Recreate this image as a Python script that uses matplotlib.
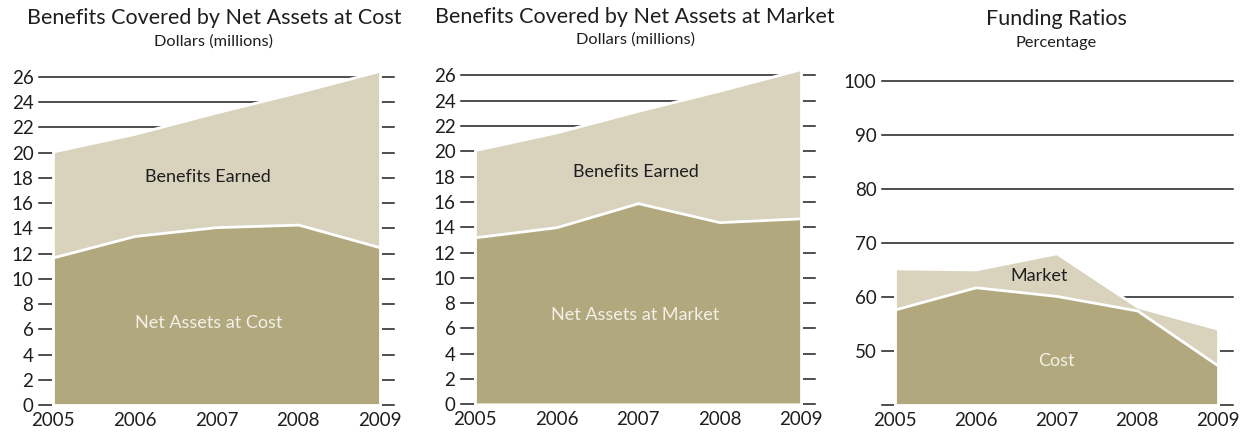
import matplotlib
matplotlib.use("Agg")
import matplotlib.pyplot as plt

plt.rcParams["font.family"] = ["Lato", "DejaVu Sans"]

# Pension plan data, 2005-2009
years = [2005, 2006, 2007, 2008, 2009]
benefits_earned = [20.1, 21.5, 23.2, 24.8, 26.5]          # $ millions
net_assets_cost = [11.7, 13.4, 14.1, 14.3, 12.5]          # $ millions
net_assets_market = [13.2, 14.0, 15.9, 14.4, 14.7]        # $ millions
ratio_market = [65.3, 65.1, 68.1, 58.2, 54.1]             # percent
ratio_cost = [57.7, 61.8, 60.2, 57.5, 47.3]               # percent

dollar_ticks = list(range(0, 27, 2))
dollar_labels = [str(t) for t in dollar_ticks]
ratio_ticks = [40, 50, 60, 70, 80, 90, 100]
ratio_labels = ["", "50", "60", "70", "80", "90", "100"]

LIGHT = "#d9d3bd"
DARK = "#b1a87e"
INK = "#1e1e1e"
PALE_TEXT = "#f4f1e6"

W, H = 1248, 432
fig = plt.figure(figsize=(W / 100, H / 100), dpi=100)


def add_axes_px(x_left, x_right, y_bottom, y_top):
    """Create axes from pixel edges (y measured from the top)."""
    return fig.add_axes([x_left / W, 1 - y_bottom / H,
                         (x_right - x_left) / W, (y_bottom - y_top) / H])


def fig_text(x, y, s, **kw):
    fig.text(x / W, 1 - y / H, s, ha="center", va="center", **kw)


def draw_panel(ax, upper, lower, base, ticks, labels, xlim, ylim):
    ax.set_xlim(*xlim)
    ax.set_ylim(*ylim)
    for t in ticks:
        ax.axhline(t, color=INK, lw=1.1, zorder=0, clip_on=False)
    ax.fill_between(years, base, upper, facecolor=LIGHT, edgecolor="white",
                    lw=2.0, zorder=1, clip_on=False)
    ax.fill_between(years, base, lower, facecolor=DARK, edgecolor="white",
                    lw=2.0, zorder=2, clip_on=False)
    for s in ax.spines.values():
        s.set_visible(False)
    ax.set_yticks(ticks, labels)
    ax.set_xticks(years, [str(y) for y in years])
    ax.tick_params(axis="y", length=0, pad=4, labelsize=13.5, labelcolor=INK)
    ax.tick_params(axis="x", length=0, pad=5, labelsize=13.5, labelcolor=INK)
    ax.patch.set_visible(False)


# Panel 1: benefits covered by net assets at cost
ax1 = add_axes_px(39, 394, 405, 405 - 27 * 12.615)
draw_panel(ax1, benefits_earned, net_assets_cost, 0, dollar_ticks,
           dollar_labels, (2005 - 14 / 81.75, 2009 + 14 / 81.75), (0, 27))
ax1.text(2006.9, 18.1, "Benefits Earned", ha="center", va="center",
         fontsize=13, color=INK)
ax1.text(2006.9, 6.5, "Net Assets at Cost", ha="center", va="center",
         fontsize=13, color=PALE_TEXT)
fig_text(214, 18, "Benefits Covered by Net Assets at Cost", fontsize=15.5, color=INK)
fig_text(214, 42, "Dollars (millions)", fontsize=11.8, color=INK)

# Panel 2: benefits covered by net assets at market
ax2 = add_axes_px(461, 815, 404.3, 404.3 - 27 * 12.65)
draw_panel(ax2, benefits_earned, net_assets_market, 0, dollar_ticks,
           dollar_labels, (2005 - 14 / 81.5, 2009 + 14 / 81.5), (0, 27))
ax2.text(2006.97, 18.4, "Benefits Earned", ha="center", va="center",
         fontsize=13, color=INK)
ax2.text(2006.97, 7.05, "Net Assets at Market", ha="center", va="center",
         fontsize=13, color=PALE_TEXT)
fig_text(635, 17, "Benefits Covered by Net Assets at Market", fontsize=15.5, color=INK)
fig_text(636, 40, "Dollars (millions)", fontsize=11.8, color=INK)

# Panel 3: funding ratios
ax3 = add_axes_px(882, 1233, 405, 405 - 62 * 5.4)
draw_panel(ax3, ratio_market, ratio_cost, 40, ratio_ticks, ratio_labels,
           (2005 - 13 / 80.75, 2009 + 15 / 80.75), (40, 102))
ax3.text(2006.78, 63.8, "Market", ha="center", va="center",
         fontsize=13, color=INK)
ax3.text(2007.0, 48.1, "Cost", ha="center", va="center",
         fontsize=13, color=PALE_TEXT)
fig_text(1056, 19, "Funding Ratios", fontsize=15.5, color=INK)
fig_text(1056, 43, "Percentage", fontsize=11.8, color=INK)

fig.savefig("out.png", dpi=100, facecolor="white")
